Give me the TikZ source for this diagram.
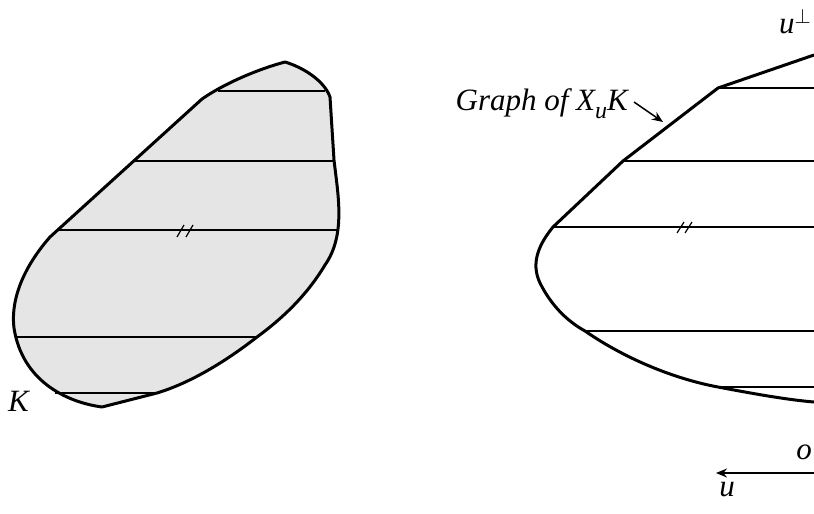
\documentclass[tikz,border=0pt]{standalone}
\usepackage{fontspec}
\setmainfont{Liberation Serif}
\usetikzlibrary{arrows.meta}
\begin{document}
\begin{tikzpicture}[x=1pt,y=-1pt,
  outline/.style={line width=3pt,line join=round},
  chord/.style={line width=1.8pt},
  tick/.style={line width=1.2pt},
  lab/.style={inner sep=0pt,font=\fontsize{31}{33}\selectfont\itshape},
  pointer/.style={line width=1.5pt,-{Stealth[length=11pt,width=9pt]}}]
\useasboundingbox (0,0) rectangle (814,514);
% left body K
\draw[outline,fill=black!10]
  (285,62) .. controls (302,67) and (324,80) .. (330,97)
  -- (334,160) .. controls (338,195) and (346,235) .. (325,265)
  .. controls (307,295) and (283,318) .. (257,337)
  .. controls (225,362) and (190,383) .. (157,393)
  -- (102,407) .. controls (65,402) and (22,380) .. (14,328)
  .. controls (10,295) and (28,262) .. (50,237)
  -- (202,99) .. controls (222,85) and (255,70) .. (285,62) -- cycle;
\draw[chord] (218,91) -- (325,91);
\draw[chord] (133,161) -- (334,161);
\draw[chord] (58,230) -- (337,230);
\draw[chord] (15,337) -- (257,337);
\draw[chord] (55,393) -- (158,393);
\draw[tick] (177,237) -- (184,225);
\draw[tick] (186,237) -- (193,225);
\node[lab,anchor=base west] (K) at (8,411) {K};
% right graph
\draw[outline]
  (814,55) -- (718,88) -- (623,161) -- (553,227)
  .. controls (540,243) and (530,262) .. (540,283)
  .. controls (550,303) and (565,320) .. (585,331)
  .. controls (630,362) and (680,380) .. (718,387)
  .. controls (760,395) and (790,400) .. (814,402);
\draw[chord] (718,88) -- (814,88);
\draw[chord] (623,161) -- (814,161);
\draw[chord] (553,227) -- (814,227);
\draw[chord] (585,331) -- (814,331);
\draw[chord] (718,387) -- (814,387);
\draw[tick] (677,233) -- (684,222);
\draw[tick] (685,233) -- (692,222);
\node[lab,anchor=base east] (graph) at (628,110)
  {Graph of X\raisebox{-0.27em}{\fontsize{24}{24}\selectfont u}K};
\coordinate (gstart) at (634,102);
\coordinate (gtip) at (663,122);
\draw[pointer] (gstart) -- (gtip);
\node[lab,anchor=base west] (uperp) at (779,33) {u\textsuperscript{$\perp$}};
\node[lab,anchor=base] (o) at (804,459) {o};
\coordinate (oright) at (814,473);
\coordinate (uleft) at (716,473);
\draw[pointer] (oright) -- (uleft);
\node[lab,anchor=base] (u) at (727,496) {u};
\end{tikzpicture}
\end{document}
